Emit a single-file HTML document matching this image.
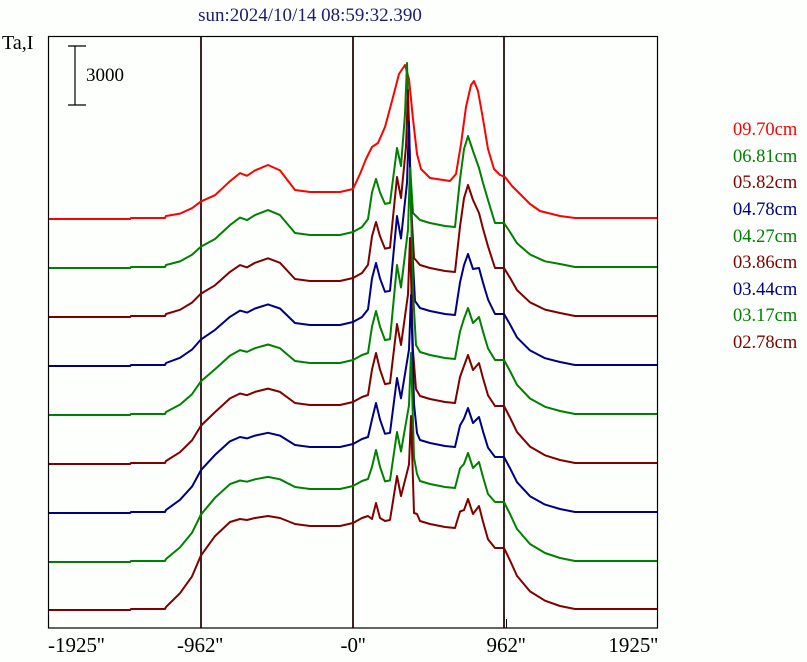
<!DOCTYPE html>
<html><head><meta charset="utf-8"><style>
html,body{margin:0;padding:0;background:#fcfffc;}
svg{display:block;font-family:"Liberation Serif",serif;}
</style></head><body>
<svg id="s" width="807" height="662" viewBox="0 0 807 662" xmlns="http://www.w3.org/2000/svg">
<rect width="807" height="662" fill="#fcfffc"/>
<text x="310" y="21" font-size="19" fill="#1c1c70" text-anchor="middle">sun:2024/10/14 08:59:32.390</text>
<text x="2" y="49" font-size="20" fill="#000">Ta,I</text>
<g stroke="#000" stroke-width="1.2">
<line x1="75" y1="46" x2="75" y2="105"/><line x1="68" y1="46" x2="86" y2="46"/><line x1="68" y1="105" x2="86" y2="105"/>
</g>
<text x="86" y="81" font-size="19">3000</text>
<g stroke="#402424" stroke-width="2">
<line x1="201" y1="36" x2="201" y2="628"/><line x1="353" y1="36" x2="353" y2="628"/><line x1="504" y1="36" x2="504" y2="628"/>
</g>
<line x1="506.5" y1="619" x2="506.5" y2="628" stroke="#000" stroke-width="1"/>
<g id="tr" fill="none" stroke-width="2" stroke-linejoin="round"></g>
<rect x="48.5" y="36.5" width="609" height="591.5" fill="none" stroke="#000" stroke-width="1.2"/>
<g font-size="21">
<text x="48" y="652">-1925''</text>
<text x="200" y="652" text-anchor="middle">-962''</text>
<text x="353" y="652" text-anchor="middle">-0''</text>
<text x="506" y="652" text-anchor="middle">962''</text>
<text x="658" y="652" text-anchor="end">1925''</text>
</g>
<g font-size="18.5">
<text x="733" y="135" fill="#ff0000">09.70cm</text>
<text x="733" y="162" fill="#008000">06.81cm</text>
<text x="733" y="188" fill="#800000">05.82cm</text>
<text x="733" y="215" fill="#000080">04.78cm</text>
<text x="733" y="242" fill="#008000">04.27cm</text>
<text x="733" y="268" fill="#800000">03.86cm</text>
<text x="733" y="295" fill="#000080">03.44cm</text>
<text x="733" y="321" fill="#008000">03.17cm</text>
<text x="733" y="348" fill="#800000">02.78cm</text>
</g>
</svg>
<script>
var cols=["#ff0000","#008000","#800000","#000080","#008000","#800000","#000080","#008000","#800000"];
var base=[219,268,317,366,415,464,513,562,610];
var P=[27,33,36,41,52,59,66,73,84];
var L=[0,89,95,103,104,111,110,112,107];
var S=[0,120,140,150,150,140,135,130,134];
var M=[154,205,227,244,247,226,218,209,194];
var Mx=[405,407,408,409,410,410,411,411,411];
var P2=[41,45,49,55,60,65,70,78,86];
var R1=[138,132,132,112,107,109,105,109,111];
var R2=[0,100,104,98,98,101,96,100,104];
var E=[44,45,49,52,55,58,56,60,62];
var g=document.getElementById("tr");
for(var t=0;t<9;t++){
 var p=P[t],b=27-17*t/8,pts;
 var left=[[49,0],[130,0],[131,1],[165,1],[166,3],[180,p*0.2],[192,p*0.4],[201,p*0.65],[215,p*0.88],[230,p+b*0.4],[240,p+b*0.7],[247,p+b*0.6],[255,p+b*0.8],[268,p+b],[280,p+b*0.8],[295,p+2],[310,p],[340,p],[353,p+3]];
 if(t==0){
  pts=left.concat([[360,45],[366,60],[372,72],[378,76],[385,92],[392,118],[399,145],[405,154],[409,140],[413,100],[417,65],[421,50],[430,41],[450,38],[456,45],[461,75],[466,112],[471,134],[474,138],[478,128],[483,100],[488,70],[494,50],[500,44],[505,42],[512,33],[520,25],[530,15],[540,8],[560,3],[575,1],[658,1]]);
 } else {
  var q=P2[t],m=M[t],mx=Mx[t],e=E[t];
  var dip=Math.max(L[t]*0.72,p+5);
  pts=left.concat([[362,p+8],[368,Math.max(L[t]*0.55,p+10)],[372,L[t]*0.85],[376,L[t]],[380,Math.max(L[t]*0.85,dip+3)],[385,dip],[390,dip+1],[397,S[t]],[401,S[t]*0.85],[mx-2,m*0.75],[mx,m],[mx+3,m*0.5],[mx+6,q+10],[420,q+3],[430,q],[445,q-3],[455,q-4],[460,(q+R1[t])/2],[464,R1[t]*0.9],[468,R1[t]],[473,R1[t]-15],[479,R2[t]],[483,R2[t]*0.85],[488,Math.max(R2[t]*0.68,e+5)],[495,e],[504,e],[510,e*0.8],[517,e*0.55],[530,e*0.3],[545,e*0.15],[560,4],[575,1],[658,1]]);
 }
 var d="";
 for(var i=0;i<pts.length;i++){d+=(i?"L":"M")+pts[i][0]+" "+(base[t]-pts[i][1]).toFixed(1)+" ";}
 var el=document.createElementNS("http://www.w3.org/2000/svg","path");
 el.setAttribute("d",d);el.setAttribute("stroke",cols[t]);g.appendChild(el);
}
</script>
</body></html>
